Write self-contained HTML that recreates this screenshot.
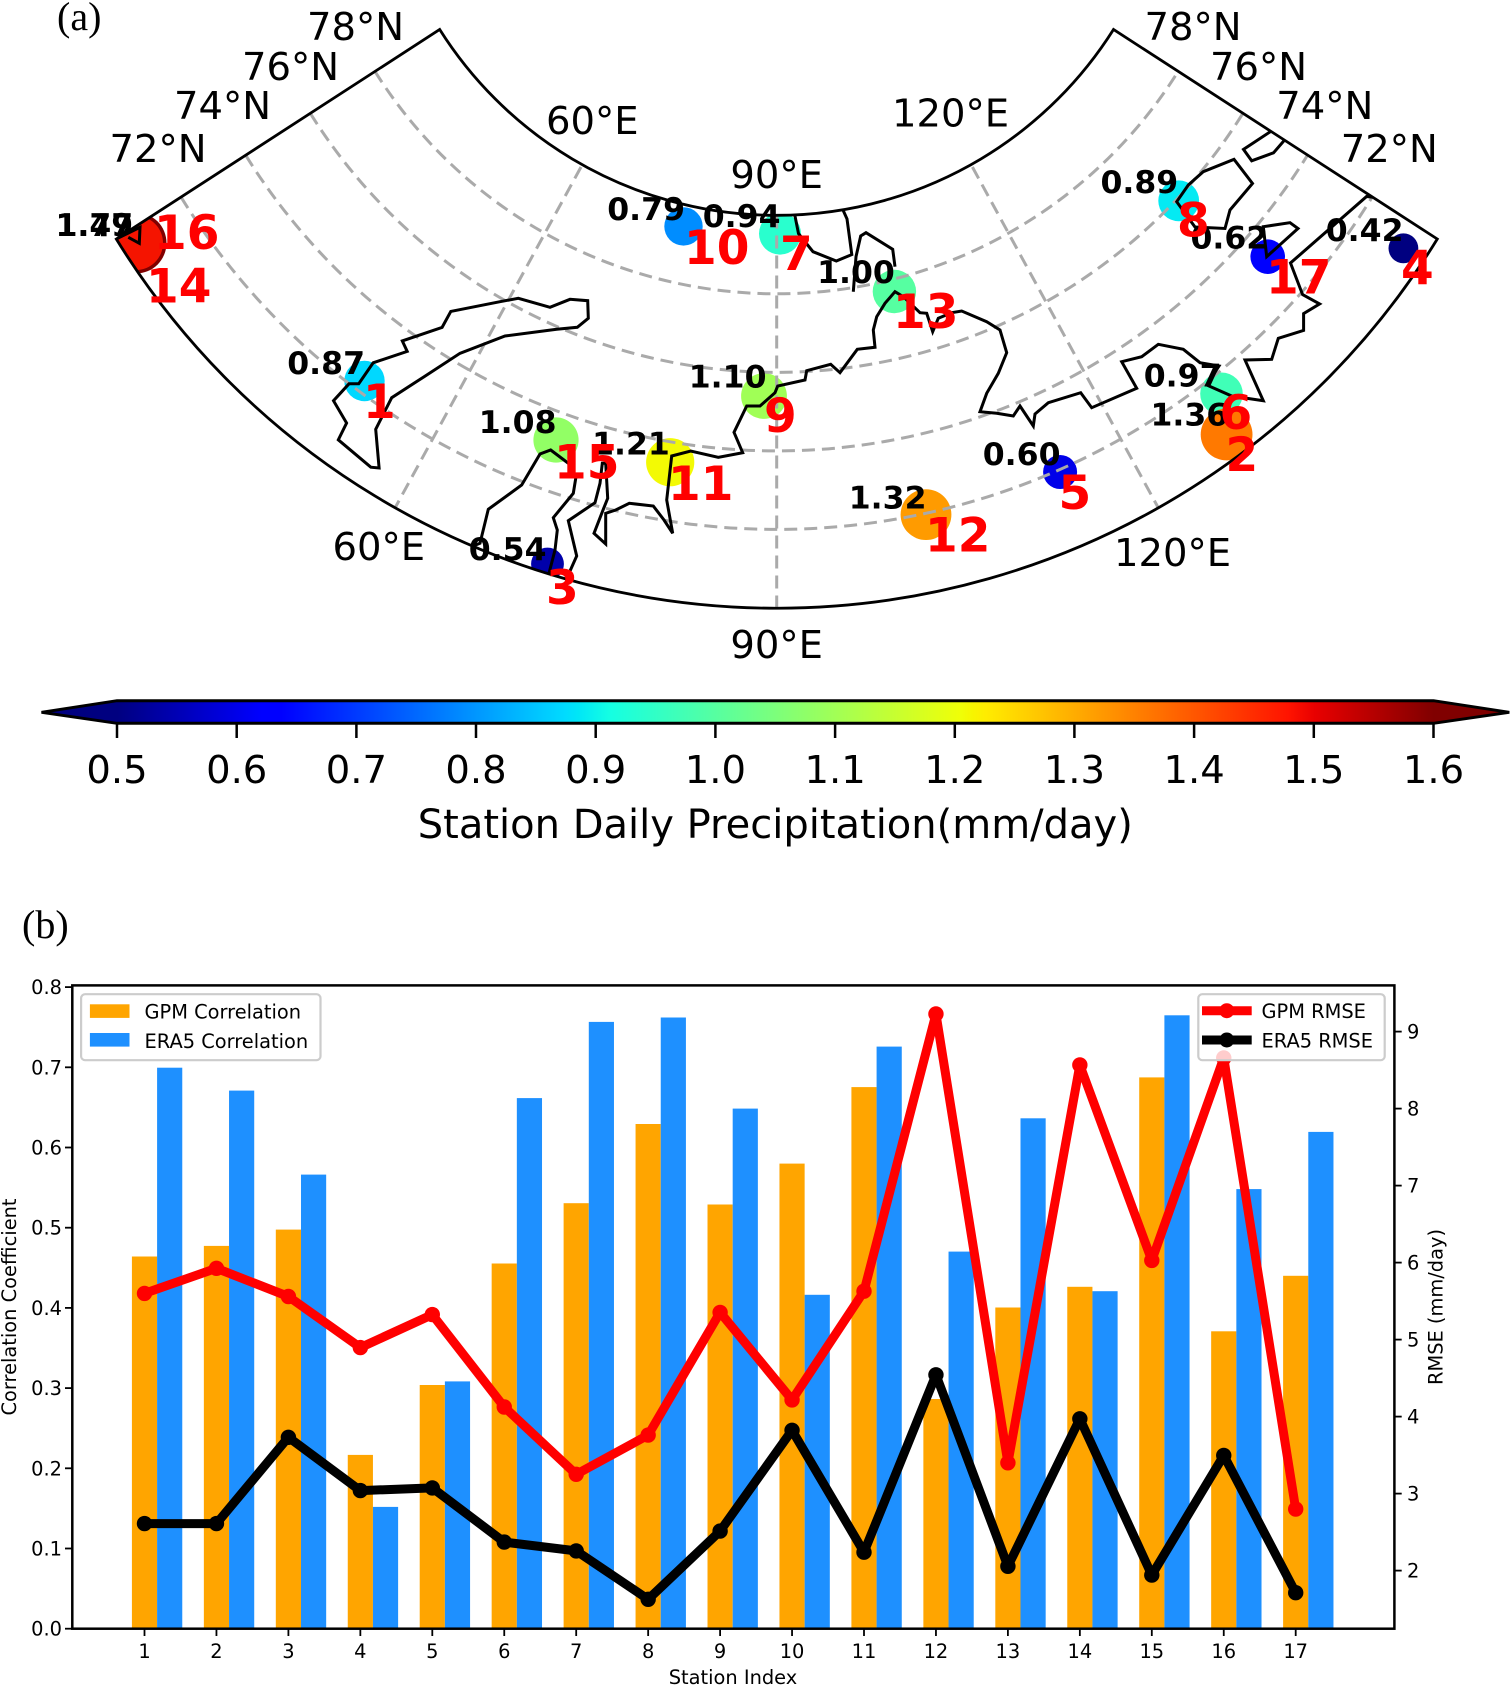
<!DOCTYPE html>
<html><head><meta charset="utf-8"><style>
html,body{margin:0;padding:0;background:#fff;}
svg{display:block;}
text{font-family:"DejaVu Sans","Liberation Sans",sans-serif;}
.g{font-size:38.5px;fill:#000;}
.v{font-size:31.5px;font-weight:bold;fill:#000;text-anchor:end;}
.n{font-size:47px;font-weight:bold;fill:#ff0000;}
.t{font-size:19.4px;fill:#000;}
</style></head><body>
<svg width="1510" height="1685" viewBox="0 0 1510 1685" xmlns="http://www.w3.org/2000/svg">
<defs>
<clipPath id="mapclip"><path d="M439.7,29.5 A398.3,398.3 0 0 0 1113.5,29.5 L1437.3,239 A775.4,775.4 0 0 1 116.3,239 Z"/></clipPath>
<linearGradient id="jet" gradientUnits="userSpaceOnUse" x1="117" y1="0" x2="1433.5" y2="0">
<stop offset="0" stop-color="#000080"/>
<stop offset="0.11" stop-color="#0000ff"/>
<stop offset="0.125" stop-color="#0000ff"/>
<stop offset="0.34" stop-color="rgb(0,219,255)"/>
<stop offset="0.35" stop-color="rgb(0,230,247)"/>
<stop offset="0.375" stop-color="rgb(21,255,226)"/>
<stop offset="0.64" stop-color="rgb(239,255,8)"/>
<stop offset="0.65" stop-color="rgb(247,245,0)"/>
<stop offset="0.66" stop-color="rgb(255,236,0)"/>
<stop offset="0.89" stop-color="rgb(255,19,0)"/>
<stop offset="0.91" stop-color="rgb(232,0,0)"/>
<stop offset="1" stop-color="#800000"/>
</linearGradient>
</defs>

<!-- (a) label -->
<text x="57" y="30" style="font-family:'Liberation Serif',serif;font-size:40px;">(a)</text>

<!-- MAP -->
<g clip-path="url(#mapclip)">
  <circle cx="136" cy="243" r="30.5" fill="#800000"/>
  <circle cx="136" cy="243" r="27" fill="rgb(245,20,0)"/>
  <circle cx="683.5" cy="226.4" r="19.2" fill="rgb(0,141,255)"/>
  <circle cx="780" cy="233.6" r="21" fill="rgb(41,255,206)"/>
  <circle cx="364.5" cy="381" r="20.2" fill="rgb(0,216,255)"/>
  <circle cx="556" cy="440" r="22.6" fill="rgb(146,255,101)"/>
  <circle cx="670.2" cy="462.2" r="24.1" fill="rgb(243,250,4)"/>
  <circle cx="547.5" cy="564" r="16.4" fill="rgb(0,0,170)"/>
  <circle cx="764" cy="396" r="22.9" fill="rgb(160,255,86)"/>
  <circle cx="894.4" cy="291.5" r="21.7" fill="rgb(86,255,161)"/>
  <circle cx="1178.7" cy="200.8" r="20.4" fill="rgb(4,234,243)"/>
  <circle cx="1267.7" cy="256.7" r="17.3" fill="rgb(0,0,254)"/>
  <circle cx="1403.4" cy="248.3" r="14.9" fill="#000080"/>
  <circle cx="1221.5" cy="393.8" r="21.3" fill="rgb(64,255,183)"/>
  <circle cx="1226.6" cy="434.5" r="25.9" fill="rgb(255,121,0)"/>
  <circle cx="1060.1" cy="472" r="17" fill="rgb(0,0,233)"/>
  <circle cx="926" cy="514.6" r="25.4" fill="rgb(255,155,0)"/>

  <g fill="none" stroke="#aaaaaa" stroke-width="3" stroke-dasharray="13,7">
    <path d="M375,71.4 A473.8,473.8 0 0 0 1178.2,71.4"/>
    <path d="M310.3,113.3 A549.2,549.2 0 0 0 1242.9,113.3"/>
    <path d="M245.7,155.2 A624.4,624.4 0 0 0 1307.5,155.2"/>
    <path d="M181,197.1 A699.9,699.9 0 0 0 1372.2,197.1"/>
    <path d="M581,167 L395,508"/>
    <path d="M776.7,215.5 L776.7,608.2"/>
    <path d="M972.4,167 L1158.4,508"/>
  </g>

  <g fill="none" stroke="#000" stroke-width="3" stroke-linejoin="miter">
    <path d="M349,383.8 L358.7,383.8 L373.2,362.8 L407.2,351.4 L402.3,340.9 L442.1,327.4 L450.8,311.4 L500,301.7 L518.3,298.3 L550,307.3 L570,299.3 L587.7,300.7 L588.3,318.3 L577.3,327.3 L556.7,329.3 L505,336 L460,353.3 L424.1,376.7 L391.7,397.7 L375.7,429.3 L379.1,468 L370.8,467.2 L338.3,439.8 L346.6,423 L333.5,400.7 Z"/>
    <path d="M473,546 L480,543.3 L488.3,509.3 L521.7,485 L540,454 L550.7,450 L569.3,464 L576,476.7 L573.3,493.3 L553.3,517.7 L557.3,530 L555,550 L548.3,576"/>
    <path d="M566,580 L576.7,556 L568.3,520.7 L595,502.7 L600,483.3 L602.3,463.3 L605.7,463.3 L607.7,498.3 L603.3,509.3 L594,533.3 L605.7,544 L605.7,513.3 L615.7,510 L629.3,503.3 L653.3,506 L664,520 L672.7,533.3 L666.7,500 L671.7,456 L690.7,451 L718.3,457.3 L742.7,452.7 L734,432.3 L746.7,406 L760,406 L775,392.7 L777.7,386 L805,380 L806.7,370.7 L830.7,364.3 L840,372.7 L857.3,349.3 L875,347.3 L873.3,330 L876.7,316.7 L885,303.3 L895,291.7 L903.3,296.7 L920,312.7 L926.7,313.3 L932.7,331.7 L938.3,318.3 L951.7,312.7 L961.7,311 L986.7,321.7 L1000,330 L1006.7,352.7 L998.3,373.3 L986.7,393.3 L980,411.7 L996.7,413.3 L1013.3,416 L1020,406 L1033.3,426 L1035,414 L1048.3,402.7 L1080.7,392.7 L1091.7,407.7 L1136.7,388.3 L1121.7,361.7 L1141.7,356.7 L1158.3,344.3 L1183.3,349.3 L1200,362.7 L1219,366 L1206.7,385 L1231.7,396 L1263.3,400.7 L1245,360 L1271.7,359.3 L1278.3,338.3 L1303.6,330.4 L1303.6,313.6 L1319.6,303.9 L1302.6,294.6 L1290.5,263 L1366.6,196.5 L1380,198"/>
    <path d="M1263.3,226.7 L1290,222.7 L1298,228.5 L1266.7,256.7 Z"/>
    <path d="M1176.7,201.7 L1188.3,185 L1203.2,171.7 L1234,159.3 L1252.5,183.5 L1230,210 L1225,228.5 L1195,227 Z"/>
    <path d="M1243.5,149.4 L1273.5,129.6 L1285.6,138.9 L1273.5,152.8 L1251.7,160.8 Z"/>
    <path d="M794.6,214 L798.5,233.6 L813,251.7 L836.3,261 L851.8,254.6 L847,218.9 L842.1,208"/>
    <path d="M853.3,291.7 L856,256.7 L860.7,236 L866,232.7 L892.7,249.3 L895,266.7"/>
    <path d="M112,241 L140,227.3 L139.3,243.3 L128.3,237.3"/>
  </g>
</g>
<path d="M439.7,29.5 A398.3,398.3 0 0 0 1113.5,29.5 L1437.3,239 A775.4,775.4 0 0 1 116.3,239 Z" fill="none" stroke="#000" stroke-width="2.8" stroke-linejoin="miter"/>

<text class="g" x="307" y="40">78°N</text>
<text class="g" x="242" y="80">76°N</text>
<text class="g" x="174" y="119">74°N</text>
<text class="g" x="109.5" y="162">72°N</text>
<text class="g" x="546" y="134">60°E</text>
<text class="g" x="776.7" y="188" text-anchor="middle">90°E</text>
<text class="g" x="892" y="126.5">120°E</text>
<text class="g" x="1144.5" y="40">78°N</text>
<text class="g" x="1210" y="80">76°N</text>
<text class="g" x="1276.3" y="119">74°N</text>
<text class="g" x="1340.8" y="162">72°N</text>
<text class="g" x="332.5" y="560">60°E</text>
<text class="g" x="776.7" y="658" text-anchor="middle">90°E</text>
<text class="g" x="1114" y="566">120°E</text>

<text class="v" x="133.2" y="236">1.47</text>
<text class="v" x="133.2" y="236">1.79</text>
<text class="v" x="685" y="220">0.79</text>
<text class="v" x="780.5" y="227">0.94</text>
<text class="v" x="365" y="374">0.87</text>
<text class="v" x="556.5" y="433">1.08</text>
<text class="v" x="669.8" y="454.5">1.21</text>
<text class="v" x="546.5" y="560">0.54</text>
<text class="v" x="766.5" y="387.5">1.10</text>
<text class="v" x="894.8" y="283">1.00</text>
<text class="v" x="1178.2" y="193">0.89</text>
<text class="v" x="1268.2" y="248.5">0.62</text>
<text class="v" x="1403.5" y="241">0.42</text>
<text class="v" x="1221.5" y="386.7">0.97</text>
<text class="v" x="1228.2" y="425.5">1.36</text>
<text class="v" x="1060.5" y="465">0.60</text>
<text class="v" x="926.5" y="508.3">1.32</text>

<text class="n" x="154" y="249">16</text>
<text class="n" x="146" y="302.5">14</text>
<text class="n" x="684" y="264">10</text>
<text class="n" x="780" y="270">7</text>
<text class="n" x="363" y="418">1</text>
<text class="n" x="554" y="478.5">15</text>
<text class="n" x="668" y="500">11</text>
<text class="n" x="546" y="604">3</text>
<text class="n" x="764" y="432">9</text>
<text class="n" x="893" y="328">13</text>
<text class="n" x="1177" y="236.5">8</text>
<text class="n" x="1266" y="293.5">17</text>
<text class="n" x="1401" y="284.5">4</text>
<text class="n" x="1219.5" y="429">6</text>
<text class="n" x="1225.5" y="471">2</text>
<text class="n" x="1058.5" y="509">5</text>
<text class="n" x="925" y="551.5">12</text>

<!-- COLORBAR -->
<polygon points="41.5,712.3 117,700.7 117,723.3" fill="#000080"/>
<polygon points="1433.5,700.7 1509.3,712.3 1433.5,723.3" fill="#800000"/>
<rect x="117" y="700.7" width="1316.5" height="22.6" fill="url(#jet)"/>
<polygon points="41.5,712.3 117,700.7 1433.5,700.7 1509.3,712.3 1433.5,723.3 117,723.3" fill="none" stroke="#000" stroke-width="3" stroke-linejoin="miter"/>
<g stroke="#000" stroke-width="2.5">
<line x1="117" y1="723" x2="117" y2="738"/><line x1="236.7" y1="723" x2="236.7" y2="738"/><line x1="356.4" y1="723" x2="356.4" y2="738"/><line x1="476" y1="723" x2="476" y2="738"/><line x1="595.7" y1="723" x2="595.7" y2="738"/><line x1="715.4" y1="723" x2="715.4" y2="738"/><line x1="835.1" y1="723" x2="835.1" y2="738"/><line x1="954.8" y1="723" x2="954.8" y2="738"/><line x1="1074.4" y1="723" x2="1074.4" y2="738"/><line x1="1194.1" y1="723" x2="1194.1" y2="738"/><line x1="1313.8" y1="723" x2="1313.8" y2="738"/><line x1="1433.5" y1="723" x2="1433.5" y2="738"/>
</g>
<text class="g" x="117" y="783" text-anchor="middle">0.5</text>
<text class="g" x="236.7" y="783" text-anchor="middle">0.6</text>
<text class="g" x="356.4" y="783" text-anchor="middle">0.7</text>
<text class="g" x="476" y="783" text-anchor="middle">0.8</text>
<text class="g" x="595.7" y="783" text-anchor="middle">0.9</text>
<text class="g" x="715.4" y="783" text-anchor="middle">1.0</text>
<text class="g" x="835.1" y="783" text-anchor="middle">1.1</text>
<text class="g" x="954.8" y="783" text-anchor="middle">1.2</text>
<text class="g" x="1074.4" y="783" text-anchor="middle">1.3</text>
<text class="g" x="1194.1" y="783" text-anchor="middle">1.4</text>
<text class="g" x="1313.8" y="783" text-anchor="middle">1.5</text>
<text class="g" x="1433.5" y="783" text-anchor="middle">1.6</text>
<text x="775.3" y="838" text-anchor="middle" style="font-size:40px;">Station Daily Precipitation(mm/day)</text>

<!-- (b) label -->
<text x="22" y="938" style="font-family:'Liberation Serif',serif;font-size:40px;">(b)</text>

<!-- BAR CHART -->
<g fill="#ffa500">
<rect x="131.91" y="1256.5" width="25.18" height="372.2"/>
<rect x="203.86" y="1245.9" width="25.18" height="382.8"/>
<rect x="275.81" y="1229.6" width="25.18" height="399.1"/>
<rect x="347.76" y="1454.9" width="25.18" height="173.8"/>
<rect x="419.71" y="1385" width="25.18" height="243.7"/>
<rect x="491.66" y="1263.5" width="25.18" height="365.2"/>
<rect x="563.61" y="1203.2" width="25.18" height="425.5"/>
<rect x="635.56" y="1124" width="25.18" height="504.7"/>
<rect x="707.51" y="1204.5" width="25.18" height="424.2"/>
<rect x="779.46" y="1163.6" width="25.18" height="465.1"/>
<rect x="851.41" y="1087.1" width="25.18" height="541.6"/>
<rect x="923.36" y="1399" width="25.18" height="229.7"/>
<rect x="995.31" y="1307.5" width="25.18" height="321.2"/>
<rect x="1067.26" y="1286.8" width="25.18" height="341.9"/>
<rect x="1139.21" y="1077.4" width="25.18" height="551.3"/>
<rect x="1211.16" y="1331.3" width="25.18" height="297.4"/>
<rect x="1283.11" y="1275.8" width="25.18" height="352.9"/>
</g>
<g fill="#1e90ff">
<rect x="157.09" y="1067.7" width="25.18" height="561"/>
<rect x="229.04" y="1090.6" width="25.18" height="538.1"/>
<rect x="300.99" y="1174.6" width="25.18" height="454.1"/>
<rect x="372.94" y="1506.9" width="25.18" height="121.8"/>
<rect x="444.89" y="1381.4" width="25.18" height="247.3"/>
<rect x="516.84" y="1098.1" width="25.18" height="530.6"/>
<rect x="588.79" y="1021.9" width="25.18" height="606.8"/>
<rect x="660.74" y="1017.5" width="25.18" height="611.2"/>
<rect x="732.69" y="1108.6" width="25.18" height="520.1"/>
<rect x="804.64" y="1294.8" width="25.18" height="333.9"/>
<rect x="876.59" y="1046.6" width="25.18" height="582.1"/>
<rect x="948.54" y="1251.6" width="25.18" height="377.1"/>
<rect x="1020.49" y="1118.3" width="25.18" height="510.4"/>
<rect x="1092.44" y="1291.2" width="25.18" height="337.5"/>
<rect x="1164.39" y="1015.3" width="25.18" height="613.4"/>
<rect x="1236.34" y="1189.1" width="25.18" height="439.6"/>
<rect x="1308.29" y="1131.9" width="25.18" height="496.8"/>
</g>

<rect x="81.1" y="994.2" width="239.4" height="66" rx="4" fill="#fff" fill-opacity="0.8" stroke="#cccccc" stroke-width="2.2"/>
<rect x="89.9" y="1004.3" width="39.6" height="13.6" fill="#ffa500"/>
<rect x="89.9" y="1033" width="39.6" height="13.6" fill="#1e90ff"/>
<text class="t" x="144.5" y="1018.5">GPM Correlation</text>
<text class="t" x="144.5" y="1047.8">ERA5 Correlation</text>

<polyline fill="none" stroke="#ff0000" stroke-width="9" stroke-linejoin="round" points="144.5,1293.4 216.45,1268.3 288.4,1296.5 360.35,1347.6 432.3,1314.6 504.25,1407 576.2,1474.3 648.15,1435.1 720.1,1312.4 792.05,1399.9 864,1291.2 935.95,1014 1007.9,1462.8 1079.85,1065 1151.8,1260.4 1223.75,1058 1295.7,1509.1"/>
<g fill="#ff0000">
<circle cx="144.5" cy="1293.4" r="7.7"/><circle cx="216.45" cy="1268.3" r="7.7"/><circle cx="288.4" cy="1296.5" r="7.7"/><circle cx="360.35" cy="1347.6" r="7.7"/><circle cx="432.3" cy="1314.6" r="7.7"/><circle cx="504.25" cy="1407" r="7.7"/><circle cx="576.2" cy="1474.3" r="7.7"/><circle cx="648.15" cy="1435.1" r="7.7"/><circle cx="720.1" cy="1312.4" r="7.7"/><circle cx="792.05" cy="1399.9" r="7.7"/><circle cx="864" cy="1291.2" r="7.7"/><circle cx="935.95" cy="1014" r="7.7"/><circle cx="1007.9" cy="1462.8" r="7.7"/><circle cx="1079.85" cy="1065" r="7.7"/><circle cx="1151.8" cy="1260.4" r="7.7"/><circle cx="1223.75" cy="1058" r="7.7"/><circle cx="1295.7" cy="1509.1" r="7.7"/>
</g>
<polyline fill="none" stroke="#000" stroke-width="9" stroke-linejoin="round" points="144.5,1523.6 216.45,1523.6 288.4,1437.3 360.35,1490.6 432.3,1487.9 504.25,1542.1 576.2,1550.9 648.15,1599.3 720.1,1531.1 792.05,1430.3 864,1552.2 935.95,1374.8 1007.9,1566.3 1079.85,1418.8 1151.8,1575.1 1223.75,1455.4 1295.7,1592.7"/>
<g fill="#000">
<circle cx="144.5" cy="1523.6" r="7.7"/><circle cx="216.45" cy="1523.6" r="7.7"/><circle cx="288.4" cy="1437.3" r="7.7"/><circle cx="360.35" cy="1490.6" r="7.7"/><circle cx="432.3" cy="1487.9" r="7.7"/><circle cx="504.25" cy="1542.1" r="7.7"/><circle cx="576.2" cy="1550.9" r="7.7"/><circle cx="648.15" cy="1599.3" r="7.7"/><circle cx="720.1" cy="1531.1" r="7.7"/><circle cx="792.05" cy="1430.3" r="7.7"/><circle cx="864" cy="1552.2" r="7.7"/><circle cx="935.95" cy="1374.8" r="7.7"/><circle cx="1007.9" cy="1566.3" r="7.7"/><circle cx="1079.85" cy="1418.8" r="7.7"/><circle cx="1151.8" cy="1575.1" r="7.7"/><circle cx="1223.75" cy="1455.4" r="7.7"/><circle cx="1295.7" cy="1592.7" r="7.7"/>
</g>

<rect x="1198.3" y="994.2" width="186.4" height="66" rx="4" fill="#fff" fill-opacity="0.8" stroke="#cccccc" stroke-width="2.2"/>
<line x1="1202" y1="1010.7" x2="1251.7" y2="1010.7" stroke="#ff0000" stroke-width="9"/>
<circle cx="1226.8" cy="1010.7" r="7.5" fill="#ff0000"/>
<line x1="1202" y1="1040" x2="1251.7" y2="1040" stroke="#000" stroke-width="9"/>
<circle cx="1226.8" cy="1040" r="7.5" fill="#000"/>
<text class="t" x="1261.5" y="1018">GPM RMSE</text>
<text class="t" x="1261.5" y="1047.3">ERA5 RMSE</text>

<rect x="72.3" y="985.4" width="1322.1" height="643.3" fill="none" stroke="#000" stroke-width="2.5"/>

<g stroke="#000" stroke-width="1.8">
<line x1="144.5" y1="1628.7" x2="144.5" y2="1636"/><line x1="216.45" y1="1628.7" x2="216.45" y2="1636"/><line x1="288.4" y1="1628.7" x2="288.4" y2="1636"/><line x1="360.35" y1="1628.7" x2="360.35" y2="1636"/><line x1="432.3" y1="1628.7" x2="432.3" y2="1636"/><line x1="504.25" y1="1628.7" x2="504.25" y2="1636"/><line x1="576.2" y1="1628.7" x2="576.2" y2="1636"/><line x1="648.15" y1="1628.7" x2="648.15" y2="1636"/><line x1="720.1" y1="1628.7" x2="720.1" y2="1636"/><line x1="792.05" y1="1628.7" x2="792.05" y2="1636"/><line x1="864" y1="1628.7" x2="864" y2="1636"/><line x1="935.95" y1="1628.7" x2="935.95" y2="1636"/><line x1="1007.9" y1="1628.7" x2="1007.9" y2="1636"/><line x1="1079.85" y1="1628.7" x2="1079.85" y2="1636"/><line x1="1151.8" y1="1628.7" x2="1151.8" y2="1636"/><line x1="1223.75" y1="1628.7" x2="1223.75" y2="1636"/><line x1="1295.7" y1="1628.7" x2="1295.7" y2="1636"/>
<line x1="72.3" y1="1628.7" x2="65" y2="1628.7"/><line x1="72.3" y1="1548.5" x2="65" y2="1548.5"/><line x1="72.3" y1="1468.3" x2="65" y2="1468.3"/><line x1="72.3" y1="1388.1" x2="65" y2="1388.1"/><line x1="72.3" y1="1307.9" x2="65" y2="1307.9"/><line x1="72.3" y1="1227.7" x2="65" y2="1227.7"/><line x1="72.3" y1="1147.5" x2="65" y2="1147.5"/><line x1="72.3" y1="1067.3" x2="65" y2="1067.3"/><line x1="72.3" y1="987.1" x2="65" y2="987.1"/>
<line x1="1394.4" y1="1570.6" x2="1401.7" y2="1570.6"/><line x1="1394.4" y1="1493.6" x2="1401.7" y2="1493.6"/><line x1="1394.4" y1="1416.6" x2="1401.7" y2="1416.6"/><line x1="1394.4" y1="1339.6" x2="1401.7" y2="1339.6"/><line x1="1394.4" y1="1262.6" x2="1401.7" y2="1262.6"/><line x1="1394.4" y1="1185.6" x2="1401.7" y2="1185.6"/><line x1="1394.4" y1="1108.6" x2="1401.7" y2="1108.6"/><line x1="1394.4" y1="1031.6" x2="1401.7" y2="1031.6"/>
</g>

<text class="t" x="144.5" y="1658" text-anchor="middle">1</text>
<text class="t" x="216.45" y="1658" text-anchor="middle">2</text>
<text class="t" x="288.4" y="1658" text-anchor="middle">3</text>
<text class="t" x="360.35" y="1658" text-anchor="middle">4</text>
<text class="t" x="432.3" y="1658" text-anchor="middle">5</text>
<text class="t" x="504.25" y="1658" text-anchor="middle">6</text>
<text class="t" x="576.2" y="1658" text-anchor="middle">7</text>
<text class="t" x="648.15" y="1658" text-anchor="middle">8</text>
<text class="t" x="720.1" y="1658" text-anchor="middle">9</text>
<text class="t" x="792.05" y="1658" text-anchor="middle">10</text>
<text class="t" x="864" y="1658" text-anchor="middle">11</text>
<text class="t" x="935.95" y="1658" text-anchor="middle">12</text>
<text class="t" x="1007.9" y="1658" text-anchor="middle">13</text>
<text class="t" x="1079.85" y="1658" text-anchor="middle">14</text>
<text class="t" x="1151.8" y="1658" text-anchor="middle">15</text>
<text class="t" x="1223.75" y="1658" text-anchor="middle">16</text>
<text class="t" x="1295.7" y="1658" text-anchor="middle">17</text>
<text class="t" x="62" y="1635.7" text-anchor="end">0.0</text>
<text class="t" x="62" y="1555.5" text-anchor="end">0.1</text>
<text class="t" x="62" y="1475.3" text-anchor="end">0.2</text>
<text class="t" x="62" y="1395.1" text-anchor="end">0.3</text>
<text class="t" x="62" y="1314.9" text-anchor="end">0.4</text>
<text class="t" x="62" y="1234.7" text-anchor="end">0.5</text>
<text class="t" x="62" y="1154.5" text-anchor="end">0.6</text>
<text class="t" x="62" y="1074.3" text-anchor="end">0.7</text>
<text class="t" x="62" y="994.1" text-anchor="end">0.8</text>
<text class="t" x="1407" y="1577.6">2</text>
<text class="t" x="1407" y="1500.6">3</text>
<text class="t" x="1407" y="1423.6">4</text>
<text class="t" x="1407" y="1346.6">5</text>
<text class="t" x="1407" y="1269.6">6</text>
<text class="t" x="1407" y="1192.6">7</text>
<text class="t" x="1407" y="1115.6">8</text>
<text class="t" x="1407" y="1038.6">9</text>

<text class="t" transform="translate(16,1307) rotate(-90)" text-anchor="middle">Correlation Coefficient</text>
<text class="t" transform="translate(1442.5,1307) rotate(-90)" text-anchor="middle">RMSE (mm/day)</text>
<text class="t" x="733" y="1684" text-anchor="middle">Station Index</text>
</svg>
</body></html>
